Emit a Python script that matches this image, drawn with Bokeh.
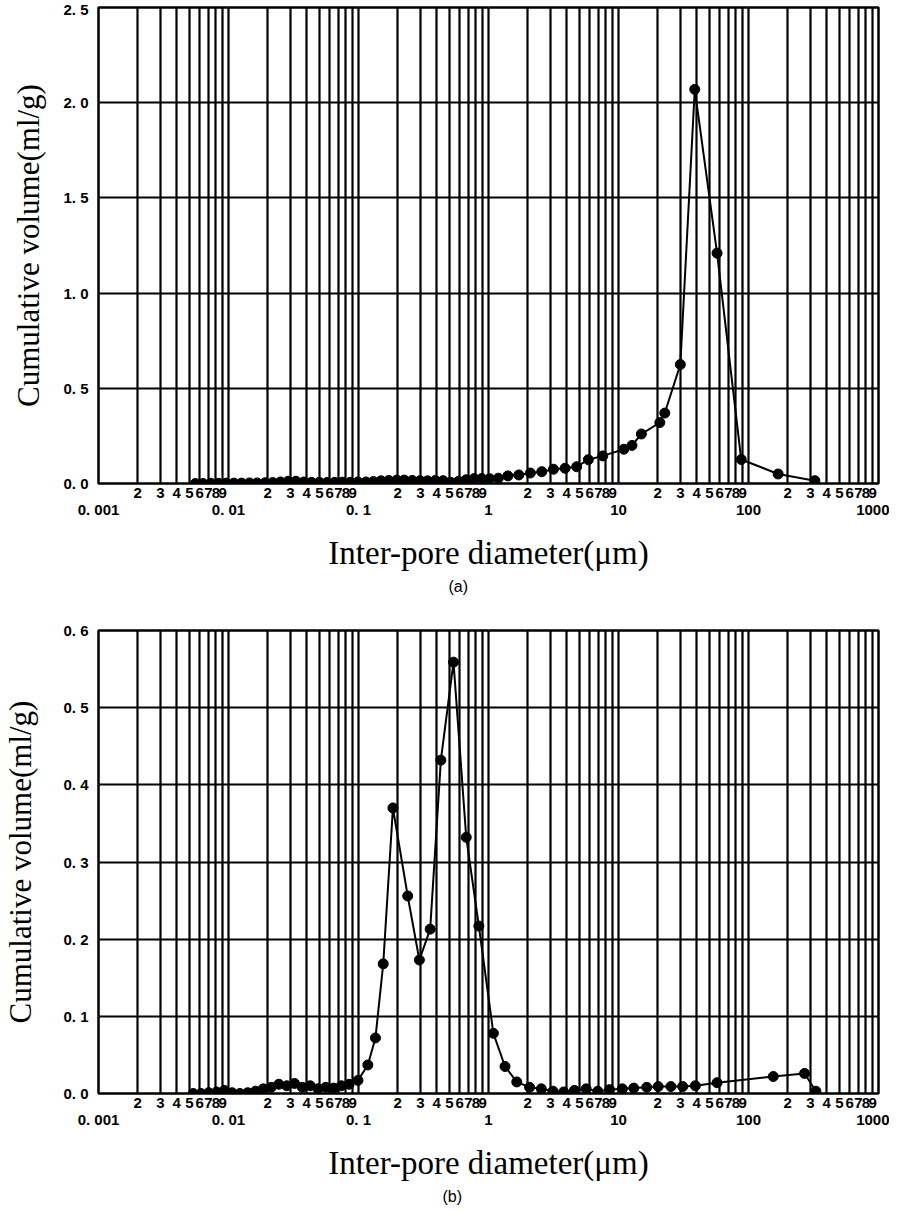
from bokeh.plotting import figure
from bokeh.models import LogAxis, LinearAxis, FixedTicker, Grid, Title, Range1d
from bokeh.layouts import column
from bokeh.embed import file_html
from bokeh.resources import INLINE

# ---- axis tick structure ----
decades = [0.001, 0.01, 0.1, 1.0, 10.0, 100.0, 1000.0]
decade_labels = ["0. 001", "0. 01", "0. 1", "1", "10", "100", "1000"]
minor_digits = [2, 3, 4, 5, 6, 7, 8, 9]

ya_ticks = [0.0, 0.5, 1.0, 1.5, 2.0, 2.5]
ya_labels = ["0. 0", "0. 5", "1. 0", "1. 5", "2. 0", "2. 5"]
yb_ticks = [0.0, 0.1, 0.2, 0.3, 0.4, 0.5, 0.6]
yb_labels = ["0. 0", "0. 1", "0. 2", "0. 3", "0. 4", "0. 5", "0. 6"]

# ---- data (a) ----
a_diam = [0.00556, 0.00637, 0.00731, 0.00838, 0.00962, 0.0110, 0.0126, 0.0145,
          0.0166, 0.0191, 0.0219, 0.0251, 0.0288, 0.0330, 0.0379, 0.0435,
          0.0499, 0.0572, 0.0656, 0.0752, 0.0863, 0.0990, 0.114, 0.130,
          0.149, 0.171, 0.197, 0.225, 0.259, 0.297, 0.340, 0.390, 0.448,
          0.513, 0.589, 0.675, 0.775, 0.889, 1.02, 1.19, 1.41, 1.71, 2.10,
          2.57, 3.16, 3.88, 4.77, 5.86, 7.57, 11.0, 12.7, 15.0, 20.8, 22.7,
          29.9, 38.6, 57.3, 87.9, 169.0, 324.0]
a_vol = [0.000, 0.000, 0.001, 0.001, 0.002, 0.002, 0.002, 0.003,
         0.003, 0.004, 0.005, 0.008, 0.012, 0.012, 0.008, 0.006,
         0.006, 0.005, 0.006, 0.007, 0.006, 0.008, 0.008, 0.010,
         0.014, 0.016, 0.018, 0.018, 0.016, 0.015, 0.014, 0.016, 0.015,
         0.006, 0.012, 0.020, 0.026, 0.026, 0.025, 0.028, 0.040, 0.045, 0.055,
         0.062, 0.075, 0.080, 0.088, 0.125, 0.145, 0.180, 0.200, 0.260, 0.320, 0.370,
         0.625, 2.070, 1.210, 0.126, 0.050, 0.015]

# ---- data (b) ----
b_diam = [0.00535, 0.00614, 0.00704, 0.00809, 0.00928, 0.01066, 0.01224, 0.01405,
          0.01613, 0.01853, 0.0213, 0.0244, 0.0281, 0.0322, 0.0370, 0.0425,
          0.0488, 0.0560, 0.0643, 0.0738, 0.0847, 0.0991, 0.118, 0.135,
          0.155, 0.184, 0.239, 0.294, 0.356, 0.430, 0.538, 0.674, 0.843,
          1.09, 1.34, 1.65, 2.07, 2.55, 3.13, 3.79, 4.58, 5.64, 6.93, 8.53,
          10.7, 13.1, 16.5, 20.2, 25.3, 31.2, 39.0, 57.3, 155.0, 270.0, 330.0]
b_vol = [0.000, 0.000, 0.001, 0.002, 0.004, 0.001, 0.000, 0.001,
         0.003, 0.006, 0.008, 0.012, 0.010, 0.013, 0.008, 0.010,
         0.006, 0.008, 0.007, 0.010, 0.012, 0.017, 0.037, 0.072,
         0.168, 0.370, 0.256, 0.173, 0.213, 0.432, 0.559, 0.332, 0.217,
         0.078, 0.035, 0.015, 0.008, 0.006, 0.003, 0.002, 0.004, 0.006, 0.003, 0.005,
         0.006, 0.007, 0.008, 0.009, 0.009, 0.009, 0.010, 0.014, 0.022, 0.026, 0.003]

TICK_FONT = "Liberation Sans"
TITLE_FONT = "Liberation Serif"


def style_axis(ax, standoff):
    ax.axis_line_color = None
    ax.major_tick_line_color = None
    ax.minor_tick_line_color = None
    ax.major_tick_out = 0
    ax.major_tick_in = 0
    ax.minor_tick_out = 0
    ax.minor_tick_in = 0
    ax.major_label_standoff = standoff
    ax.major_label_text_font = TICK_FONT
    ax.major_label_text_font_style = "bold"
    ax.major_label_text_font_size = "15px"
    ax.major_label_text_color = "black"


def build(xs, ys, yticks, ylabels, tag, height, b_left, b_top, b_bottom,
          ylab_standoff, tag_offset):
    p = figure(width=889, height=height, x_axis_type="log",
               x_range=Range1d(decades[0], decades[-1]),
               y_range=Range1d(yticks[0], yticks[-1]),
               x_axis_location=None, y_axis_location=None,
               output_backend="svg", toolbar_location=None,
               min_border_left=b_left, min_border_right=11,
               min_border_top=b_top, min_border_bottom=b_bottom)
    p.outline_line_color = "black"
    p.outline_line_width = 2.5
    p.background_fill_color = "white"
    p.border_fill_color = "white"

    minor = [d * m for d in decades[:-1] for m in minor_digits]
    grid_x = sorted(decades + minor)
    p.add_layout(Grid(dimension=0, ticker=FixedTicker(ticks=grid_x),
                      grid_line_color="black", grid_line_width=2.2))
    p.add_layout(Grid(dimension=1, ticker=FixedTicker(ticks=yticks),
                      grid_line_color="black", grid_line_width=2.2))

    # digit row (2 3 4 5 6 7 8 9 in each decade)
    ax1 = LogAxis(ticker=FixedTicker(ticks=minor),
                  major_label_overrides={d * m: str(m) for d in decades[:-1] for m in minor_digits})
    style_axis(ax1, 4)
    p.add_layout(ax1, "below")

    # decade row + title
    ax2 = LogAxis(ticker=FixedTicker(ticks=decades),
                  major_label_overrides=dict(zip(decades, decade_labels)),
                  axis_label="Inter-pore diameter(\u03bcm)")
    style_axis(ax2, 0)
    ax2.axis_label_text_font = TITLE_FONT
    ax2.axis_label_text_font_size = "33px"
    ax2.axis_label_text_font_style = "normal"
    ax2.axis_label_text_color = "black"
    ax2.axis_label_standoff = 14
    p.add_layout(ax2, "below")

    p.add_layout(Title(text=tag, align="left", offset=tag_offset,
                       text_font=TICK_FONT, text_font_size="16px",
                       text_font_style="normal", text_color="black",
                       standoff=4), "below")

    ay = LinearAxis(ticker=FixedTicker(ticks=yticks),
                    major_label_overrides=dict(zip(yticks, ylabels)),
                    axis_label="Cumulative volume(ml/g)")
    style_axis(ay, 10)
    ay.axis_label_text_font = TITLE_FONT
    ay.axis_label_text_font_size = "31px"
    ay.axis_label_text_font_style = "normal"
    ay.axis_label_text_color = "black"
    ay.axis_label_standoff = ylab_standoff
    p.add_layout(ay, "left")

    p.line(xs, ys, line_color="black", line_width=2)
    p.scatter(xs, ys, size=10, fill_color="black", line_color="black")
    return p


pa = build(a_diam, a_vol, ya_ticks, ya_labels, "(a)", 612, 87, 7, 129, 14, 350)
pb = build(b_diam, b_vol, yb_ticks, yb_labels, "(b)", 594, 95, 18, 109, 22, 344)

layout = column(pa, pb)
open("out.html", "w").write(file_html(layout, INLINE))
